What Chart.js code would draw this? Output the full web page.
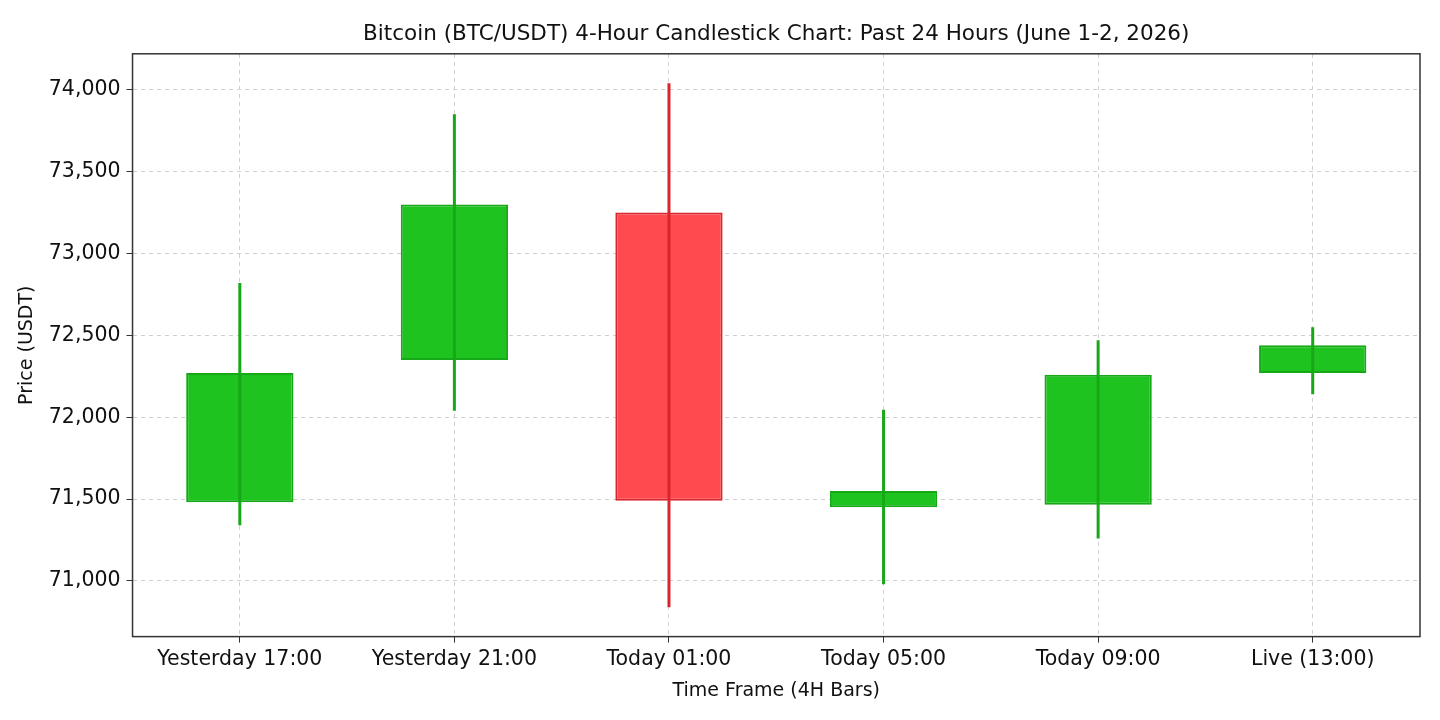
<!DOCTYPE html>
<html>
<head>
<meta charset="utf-8">
<script src="https://cdn.jsdelivr.net/npm/chart.js@4.4.1/dist/chart.umd.min.js"></script>
<style>
  html, body { margin: 0; padding: 0; background: #fff; }
  #wrap { width: 1440px; height: 720px; }
</style>
</head>
<body>
<div id="wrap"><canvas id="candles"></canvas></div>
<script>
// 4H bars
var labels = ['Yesterday 17:00', 'Yesterday 21:00', 'Today 01:00', 'Today 05:00', 'Today 09:00', 'Live (13:00)'];
var openPrices  = [71480, 72350, 73250, 71450, 71465, 72270];
var closePrices = [72270, 73300, 71490, 71550, 72260, 72440];
var highPrices  = [72820, 73850, 74040, 72045, 72470, 72550];
var lowPrices   = [71340, 72040, 70840, 70980, 71260, 72140];
var priceTicks  = [71000, 71500, 72000, 72500, 73000, 73500, 74000];

var upFill = '#1fc31f', upLine = '#17a817';
var downFill = '#ff4a50', downLine = '#d8262e';

var bodies = [], wicks = [], fills = [], edges = [];
for (var i = 0; i < labels.length; i++) {
    bodies.push([openPrices[i], closePrices[i]]);
    wicks.push([lowPrices[i], highPrices[i]]);
    var up = closePrices[i] >= openPrices[i];
    fills.push(up ? upFill : downFill);
    edges.push(up ? upLine : downLine);
}

// dark frame round the plot area
var frame = {
    id: 'frame',
    afterDraw: function(chart) {
        var a = chart.chartArea, c = chart.ctx;
        c.save();
        c.strokeStyle = '#333';
        c.lineWidth = 1.5;
        c.strokeRect(a.left, a.top, a.right - a.left, a.bottom - a.top);
        c.restore();
    }
};

var font = 'DejaVu Sans';

var ctx = document.getElementById('candles').getContext('2d');
var chart = new Chart(ctx, {
    type: 'bar',
    data: {
        labels: labels,
        datasets: [
            {
                label: 'Wick',
                data: wicks,
                backgroundColor: edges,
                borderWidth: 0,
                maxBarThickness: 3,
                grouped: false,
                order: 0
            },
            {
                label: 'Body',
                data: bodies,
                backgroundColor: fills,
                borderColor: edges,
                borderWidth: 2,
                borderSkipped: false,
                barPercentage: 0.5,
                categoryPercentage: 1,
                grouped: false,
                order: 1
            }
        ]
    },
    options: {
        responsive: true,
        maintainAspectRatio: false,
        animation: false,
        layout: { padding: { left: 16, right: 20, top: 6, bottom: 18 } },
        plugins: {
            legend: { display: false },
            tooltip: { enabled: false },
            title: {
                display: true,
                fullSize: false,
                text: 'Bitcoin (BTC/USDT) 4-Hour Candlestick Chart: Past 24 Hours (June 1-2, 2026)',
                color: '#111',
                font: { family: font, size: 21.5, weight: 'normal' },
                padding: { top: 16, bottom: 6 }
            }
        },
        scales: {
            x: {
                offset: true,
                grid: {
                    color: '#cfcfcf',
                    tickColor: '#333',
                    tickLength: 6,
                    tickBorderDash: [],
                    offset: false
                },
                border: { display: false, dash: [4, 4] },
                ticks: {
                    color: '#111',
                    font: { family: font, size: 20.5 },
                    padding: 5,
                    maxRotation: 0
                },
                title: {
                    display: true,
                    text: 'Time Frame (4H Bars)',
                    color: '#111',
                    font: { family: font, size: 19 },
                    padding: { top: 2, bottom: 0 }
                }
            },
            y: {
                min: 70660,
                max: 74220,
                afterBuildTicks: function(axis) {
                    axis.ticks = priceTicks.map(function(v) { return { value: v }; });
                },
                grid: {
                    color: '#cfcfcf',
                    tickColor: '#333',
                    tickLength: 6,
                    tickBorderDash: []
                },
                border: { display: false, dash: [4, 4] },
                ticks: {
                    color: '#111',
                    font: { family: font, size: 20.5 },
                    padding: 6
                },
                title: {
                    display: true,
                    text: 'Price (USDT)',
                    color: '#111',
                    font: { family: font, size: 19 },
                    padding: { top: 0, bottom: 4 }
                }
            }
        }
    },
    plugins: [frame]
});
</script>
</body>
</html>
